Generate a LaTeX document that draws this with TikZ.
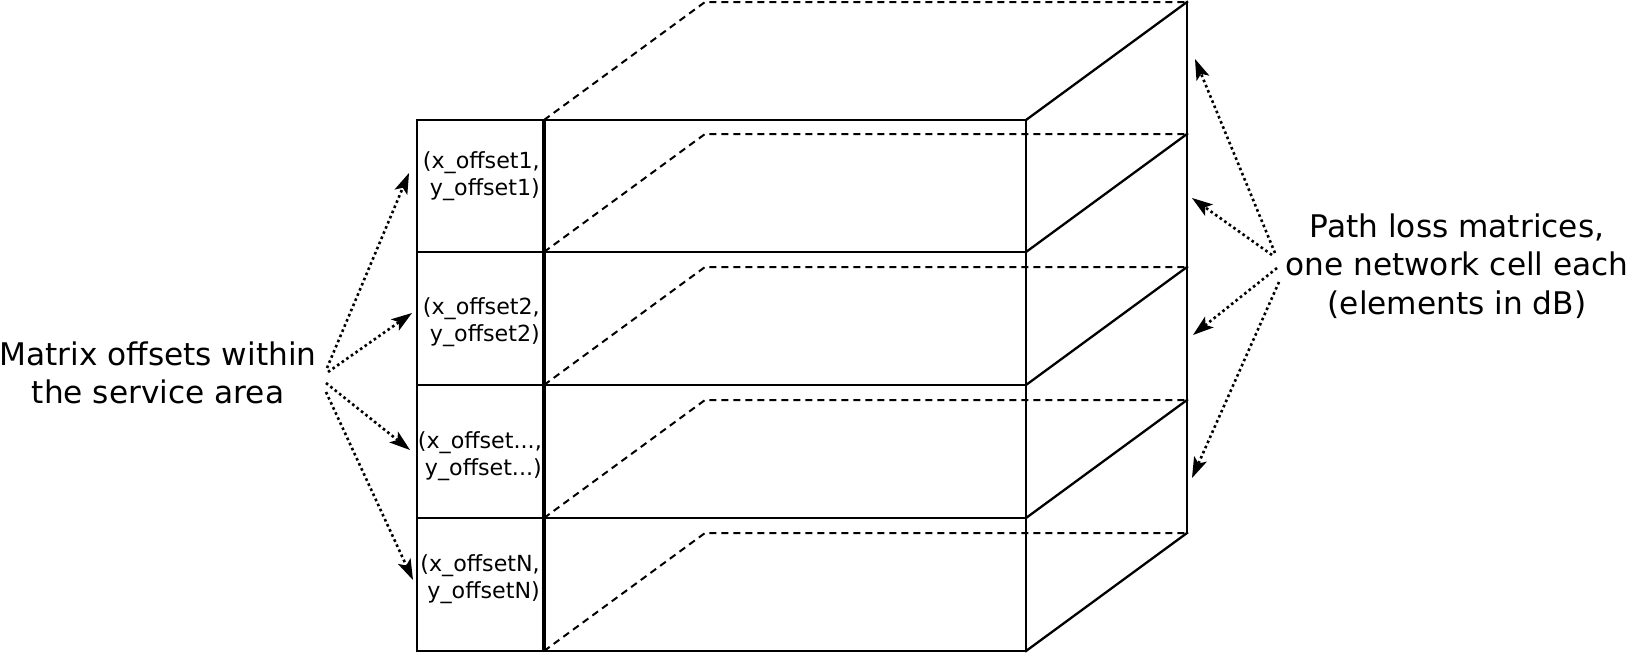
\documentclass[tikz,border=0pt]{standalone}
\usepackage{fontspec}
\setmainfont{DejaVu Sans}
\usetikzlibrary{arrows.meta}
\begin{document}
\begin{tikzpicture}[x=1pt,y=-1pt,
  edge/.style={line width=2.3pt,line cap=rect},
  hidden/.style={line width=2pt,dash pattern=on 7pt off 5pt},
  pointer/.style={line width=2.6pt,dash pattern=on 2.6pt off 3pt,
    -{Stealth[length=21pt,width=14pt,inset=5pt,line width=0pt]}},
  celltext/.style={font=\fontsize{22.2}{27}\selectfont,align=right,inner sep=0pt,anchor=base east},
  bigtext/.style={font=\fontsize{31.2}{38.5}\selectfont,align=center,inner sep=0pt,anchor=base}
]
\useasboundingbox (0,0) rectangle (1628,653);
% front face
\draw[edge] (417,120) rectangle (1026,651);
\foreach \y in {252,385,518} \draw[edge] (417,\y) -- (1026,\y);
\draw[line width=3.2pt] (544,120) -- (544,651);
% depth
\foreach \y in {120,252,385,518,651} {
  \draw[edge] (1026,\y) -- ++(161,-118);
  \draw[hidden] (544,\y) -- ++(161,-118) -- ++(482,0);
}
\draw[edge] (1187,2) -- (1187,533);
% cell texts
\node[celltext] (c1) at (540,195) {(x\_offset1,\\y\_offset1)};
\node[celltext] (c2) at (540,341) {(x\_offset2,\\y\_offset2)};
\node[celltext] (c3) at (542,475) {(x\_offset...,\\y\_offset...)};
\node[celltext] (c4) at (540,598) {(x\_offsetN,\\y\_offsetN)};
% labels
\node[bigtext] (lbl) at (158,403.5) {Matrix offsets within\\the service area};
\node[bigtext] (rbl) at (1457,314) {Path loss matrices,\\one network cell each\\(elements in dB)};
% arrow anchors
\coordinate (ls1) at (327,368); \coordinate (lt1) at (409,173);
\coordinate (ls2) at (328,372); \coordinate (lt2) at (412,313);
\coordinate (ls3) at (326,383); \coordinate (lt3) at (410,450);
\coordinate (ls4) at (326,392); \coordinate (lt4) at (413,580);
\coordinate (rs1) at (1275,253); \coordinate (rt1) at (1195,59);
\coordinate (rs2) at (1272,255); \coordinate (rt2) at (1192,198);
\coordinate (rs3) at (1277,268); \coordinate (rt3) at (1193,335);
\coordinate (rs4) at (1279,282); \coordinate (rt4) at (1192,478);
\foreach \i in {1,2,3,4} {
  \draw[pointer] (ls\i) -- (lt\i);
  \draw[pointer] (rs\i) -- (rt\i);
}
\end{tikzpicture}
\end{document}
